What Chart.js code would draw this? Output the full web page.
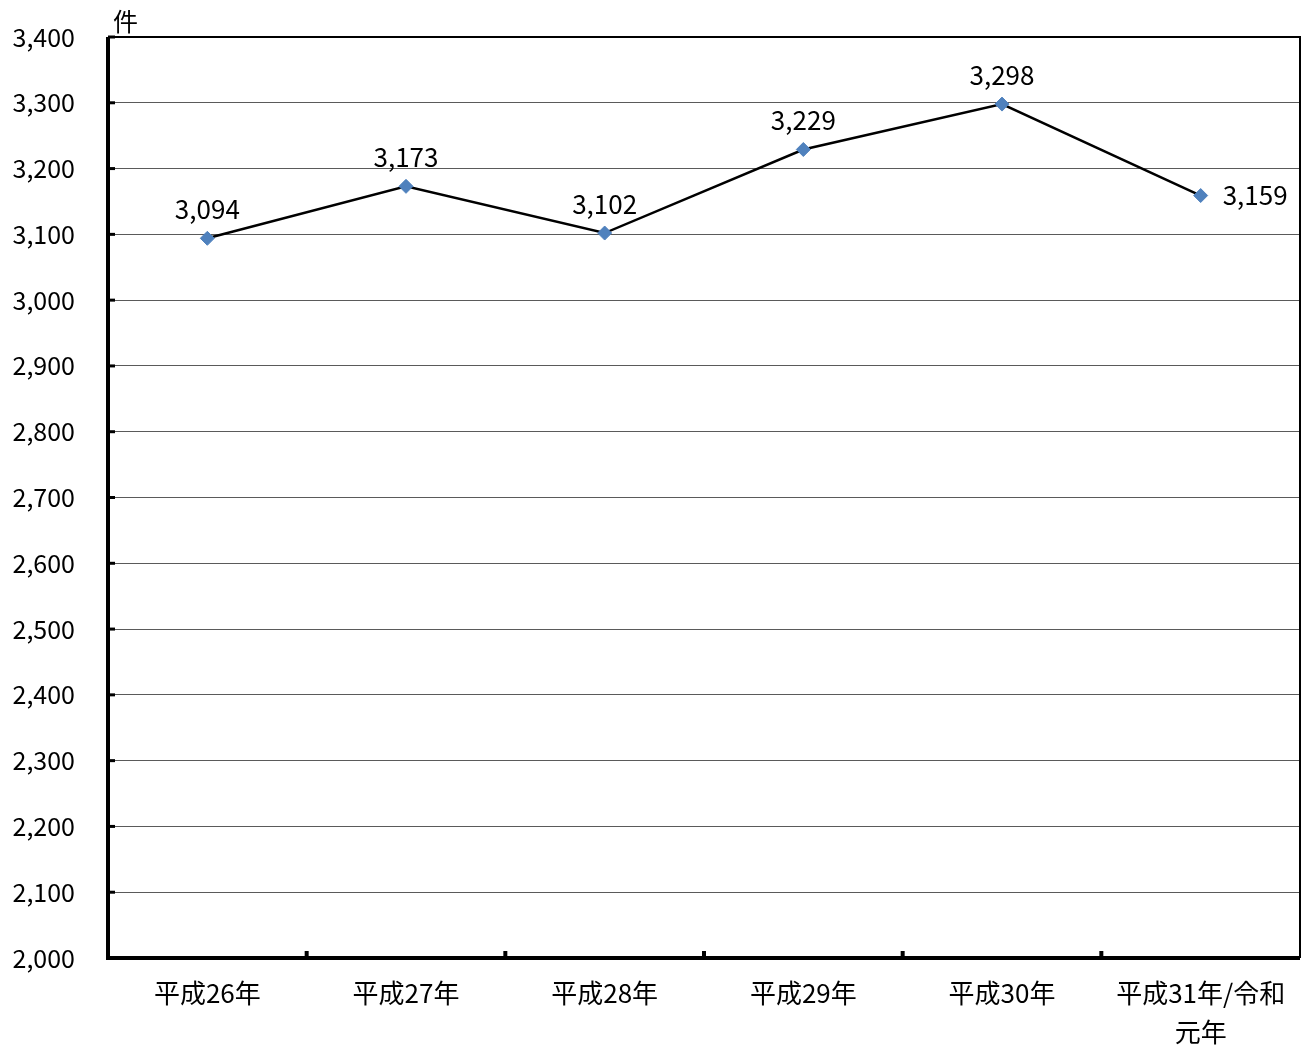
<!DOCTYPE html>
<html>
<head>
<meta charset="utf-8">
<script src="https://cdn.jsdelivr.net/npm/chart.js@4/dist/chart.umd.min.js"></script>
<style>
  html, body { margin: 0; padding: 0; background: #fff; }
  #wrap { width: 1311px; height: 1049px; }
</style>
</head>
<body>
<div id="wrap"><canvas id="line_chart"></canvas></div>
<script>
const xValues = ["平成26年", "平成27年", "平成28年", "平成29年", "平成30年", ["平成31年/令和", "元年"]];
const yValues = [3094, 3173, 3102, 3229, 3298, 3159];
const yMin = 2000, yMax = 3400, yStep = 100;
const unitLabel = "件";

const FONT = "'Noto Sans CJK JP', 'Noto Sans', sans-serif";

// frame, inward ticks, unit label and data labels
const frame = {
  id: "frame",
  afterDatasetsDraw(chart) {
    const ctx = chart.ctx;
    const a = chart.chartArea;
    const xs = chart.scales.x, ys = chart.scales.y;
    ctx.save();
    ctx.strokeStyle = "#000";
    // top + right thin
    ctx.lineWidth = 2;
    ctx.beginPath();
    ctx.moveTo(a.left, a.top); ctx.lineTo(a.right, a.top); ctx.lineTo(a.right, a.bottom);
    ctx.stroke();
    // left + bottom thick
    ctx.lineWidth = 4;
    ctx.beginPath();
    ctx.moveTo(a.left, a.top); ctx.lineTo(a.left, a.bottom); ctx.lineTo(a.right, a.bottom);
    ctx.stroke();
    // y ticks inward
    ctx.lineWidth = 3;
    ys.ticks.forEach((t, i) => {
      const y = ys.getPixelForTick(i);
      ctx.beginPath(); ctx.moveTo(a.left, y); ctx.lineTo(a.left + 7, y); ctx.stroke();
    });
    // x ticks between categories
    ctx.lineWidth = 4;
    for (let i = 1; i < xValues.length; i++) {
      const x = (xs.getPixelForValue(i - 1) + xs.getPixelForValue(i)) / 2;
      ctx.beginPath(); ctx.moveTo(x, a.bottom); ctx.lineTo(x, a.bottom - 7); ctx.stroke();
    }
    // unit
    ctx.fillStyle = "#000";
    ctx.font = "25px " + FONT;
    ctx.textAlign = "left"; ctx.textBaseline = "bottom";
    ctx.fillText(unitLabel, a.left + 5, a.top - 3);
    // data labels
    ctx.font = "26px " + FONT;
    const meta = chart.getDatasetMeta(0);
    meta.data.forEach((pt, i) => {
      const txt = yValues[i].toLocaleString("en-US");
      if (i === meta.data.length - 1) {
        ctx.textAlign = "left"; ctx.textBaseline = "middle";
        ctx.fillText(txt, pt.x + 22, pt.y);
      } else {
        ctx.textAlign = "center"; ctx.textBaseline = "bottom";
        ctx.fillText(txt, pt.x, pt.y - 16);
      }
    });
    ctx.restore();
  }
};

new Chart("line_chart", {
  type: "line",
  data: {
    labels: xValues,
    datasets: [{
      data: yValues,
      borderColor: "#000",
      borderWidth: 2.5,
      fill: false,
      tension: 0,
      pointStyle: "rectRot",
      pointRadius: 7,
      pointHoverRadius: 7,
      pointBackgroundColor: "#4F81BD",
      pointBorderColor: "#4F81BD",
      pointBorderWidth: 1
    }]
  },
  options: {
    responsive: true,
    maintainAspectRatio: false,
    animation: false,
    layout: { padding: { top: 37, right: 11, left: 0, bottom: 0 } },
    plugins: { legend: { display: false }, tooltip: { enabled: false } },
    scales: {
      x: {
        offset: true,
        grid: { display: false, drawTicks: false },
        border: { display: false },
        ticks: { color: "#000", font: { family: FONT, size: 26, lineHeight: 1.5 }, padding: 16, maxRotation: 0, autoSkip: false },
        afterFit(s) { s.height = 91; s.paddingLeft = 0; s.paddingRight = 0; }
      },
      y: {
        min: yMin, max: yMax,
        grid: { color: "#5a5a5a", lineWidth: 1, drawTicks: false },
        border: { display: false },
        ticks: {
          stepSize: yStep, color: "#000", padding: 33,
          font: { family: FONT, size: 25 },
          callback: v => v.toLocaleString("en-US")
        },
        afterFit(s) { s.width = 108; s.paddingTop = 0; s.paddingBottom = 0; }
      }
    }
  },
  plugins: [frame]
});
</script>
</body>
</html>
